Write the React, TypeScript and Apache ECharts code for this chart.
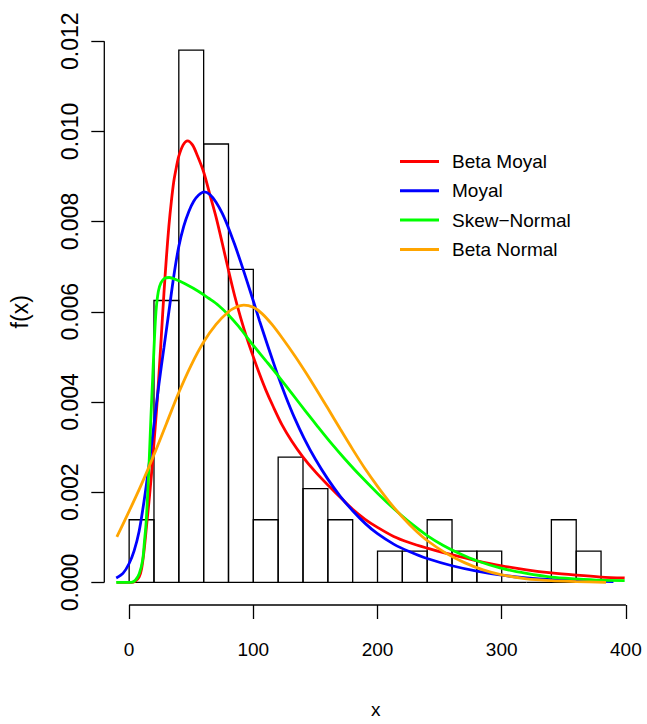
import React, { useEffect, useRef } from "react";
import * as echarts from "echarts";

// Histogram (density scale)
const binEdges = [0, 20, 40, 60, 80, 100, 120, 140, 160, 180, 200, 220, 240, 260, 280, 300, 320, 340, 360, 380];
const binDensity = [
  0.00139, 0.00625, 0.0118, 0.00972, 0.00694, 0.00139, 0.00278, 0.00208, 0.00139, 0,
  0.000694, 0.000694, 0.00139, 0.000694, 0.000694, 0, 0, 0.00139, 0.000694,
];

const xTicks = [0, 100, 200, 300, 400];
const yTicks = [0, 0.002, 0.004, 0.006, 0.008, 0.01, 0.012];

const seriesNames = ["Beta Moyal", "Moyal", "Skew\u2212Normal", "Beta Normal"];
const seriesColors = ["#ff0000", "#0000ff", "#00ff00", "#ffa500"];

const betaMoyal = [
  [-10, 0], [2, 0], [5, 0.00003], [8, 0.00012], [10, 0.0003], [12, 0.0007], [14, 0.00125],
  [16, 0.0018], [18, 0.0024], [20, 0.0031], [22, 0.0038], [24, 0.0046], [26, 0.0055], [28, 0.0064],
  [30, 0.0072], [32, 0.0079], [34, 0.00845], [36, 0.0089], [38, 0.0092], [40, 0.00945],
  [43.5, 0.0097], [47, 0.00979], [51, 0.0097], [55, 0.00946], [60, 0.0091], [65, 0.0086],
  [70, 0.0081], [75, 0.00752], [80, 0.00692], [85, 0.00635], [90, 0.00585], [95, 0.0054],
  [100, 0.005], [105, 0.00462], [110, 0.00427], [116, 0.0039], [123, 0.0035], [131, 0.00313],
  [140, 0.00278], [150, 0.00245], [160, 0.00216], [170, 0.00189], [180, 0.00162], [190, 0.0014],
  [200, 0.00122], [213, 0.00102], [226, 0.00088], [240, 0.00076], [253, 0.00066], [266, 0.00057],
  [280, 0.00048], [300, 0.00037], [320, 0.00028], [340, 0.00021], [360, 0.00016], [380, 0.00012],
  [399, 0.0001],
];

const moyal = [
  [-10.4, 0.0001], [-5, 0.0002], [0, 0.00042], [4, 0.0007], [8, 0.00113], [12, 0.0018],
  [16, 0.0026], [20, 0.0035], [24, 0.0044], [28, 0.0052], [32, 0.006], [36, 0.0068],
  [40, 0.00745], [44, 0.0079], [48, 0.00822], [52, 0.00845], [56, 0.00859], [60.4, 0.00866],
  [65, 0.0086], [70, 0.00843], [75, 0.00818], [80, 0.00786], [85, 0.00749], [90, 0.00709],
  [95, 0.00667], [100, 0.00624], [105, 0.0058], [110, 0.00538], [115, 0.00497], [120, 0.00457],
  [126, 0.00413], [133, 0.00366], [141, 0.00319], [150, 0.00273], [160, 0.00229], [170, 0.00191],
  [180, 0.00159], [190, 0.00131], [200, 0.00108], [213, 0.00085], [226, 0.00068], [240, 0.00053],
  [260, 0.00037], [280, 0.00025], [300, 0.00016], [320, 0.0001], [340, 0.00006], [360, 0.00004],
  [390, 0.00002],
];

const skewNormal = [
  [-10.4, 0], [1.6, 0], [5, 0.00005], [8.2, 0.0002], [10.9, 0.0005], [12.3, 0.0009], [13.6, 0.0013],
  [15, 0.002], [16.3, 0.0028], [17.6, 0.0037], [18.9, 0.0045], [20.2, 0.0053], [21.6, 0.006],
  [23.5, 0.00645], [25.6, 0.00664], [28.5, 0.00674], [32.3, 0.00676], [38, 0.00671], [45, 0.00662],
  [56, 0.00645], [64, 0.0063], [72, 0.00614], [80, 0.00593], [88, 0.00568], [99, 0.00529],
  [110, 0.00492], [120, 0.00458], [131, 0.00419], [142, 0.0038], [152, 0.00345], [162, 0.00311],
  [173, 0.00276], [186, 0.00237], [200, 0.00198], [213, 0.00164], [226, 0.00133], [240, 0.00104],
  [253, 0.00082], [266, 0.00064], [280, 0.00048], [300, 0.00031], [320, 0.0002], [340, 0.00012],
  [360, 0.00008], [380, 0.00005], [399, 0.00004],
];

const betaNormal = [
  [-9.9, 0.00101], [0, 0.00158], [10, 0.00218], [20, 0.00283], [30, 0.00352], [40, 0.00421],
  [50, 0.00482], [60, 0.00533], [70, 0.00572], [80, 0.006], [86, 0.0061], [92.3, 0.00615],
  [100, 0.0061], [107, 0.00596], [115, 0.00572], [123, 0.00543], [133.5, 0.00502], [143, 0.00462],
  [152, 0.00422], [160, 0.00386], [170, 0.0034], [180, 0.00295], [190, 0.00252], [200, 0.00213],
  [210, 0.00177], [220, 0.00145], [230, 0.00117], [240, 0.00093], [255, 0.00065], [270, 0.00044],
  [285, 0.00028], [300, 0.00017], [320, 0.00008], [340, 0.00004], [360, 0.00002], [384, 0],
];

const curves = [betaMoyal, moyal, skewNormal, betaNormal];

export default function App() {
  const ref = useRef<HTMLDivElement>(null);

  useEffect(() => {
    if (!ref.current) return;
    const chart = echarts.init(ref.current, undefined, { renderer: "svg" });

    const xMin = -20;
    const xMax = 417;
    const yMin = -0.0005;
    const yMax = 0.0125;

    const bins = binDensity.map((d, i) => [binEdges[i], binEdges[i + 1], d]);

    const font = "'Liberation Sans', Arial, Helvetica, sans-serif";

    const option: any = {
      animation: false,
      backgroundColor: "#ffffff",
      grid: { left: 104.3, top: 18.6, width: 547.8, height: 590.1, containLabel: false },
      legend: {
        data: seriesNames,
        orient: "vertical",
        left: 395,
        top: 145,
        icon: "rect",
        itemWidth: 39,
        itemHeight: 3,
        itemGap: 6.3,
        textStyle: {
          fontSize: 19,
          lineHeight: 23,
          color: "#000",
          fontFamily: font,
          padding: [0, 0, 0, 8],
        },
      },
      xAxis: {
        type: "value",
        min: xMin,
        max: xMax,
        splitLine: { show: false },
        axisLine: { show: false, onZero: false },
        axisTick: {
          show: true,
          length: 14,
          customValues: xTicks,
          lineStyle: { color: "#000", width: 1.3 },
        },
        axisLabel: {
          customValues: xTicks,
          margin: 35,
          fontSize: 19,
          color: "#000",
          fontFamily: font,
        },
        name: "x",
        nameLocation: "middle",
        nameGap: 95,
        nameTextStyle: { fontSize: 19, color: "#000", fontFamily: font },
      },
      yAxis: {
        type: "value",
        min: yMin,
        max: yMax,
        splitLine: { show: false },
        axisLine: { show: false, onZero: false },
        axisTick: {
          show: true,
          length: 13,
          customValues: yTicks,
          lineStyle: { color: "#000", width: 1.3 },
        },
        axisLabel: {
          customValues: yTicks,
          rotate: 90,
          margin: 23,
          fontSize: 23,
          color: "#000",
          fontFamily: font,
          formatter: (v: number) => v.toFixed(3),
        },
        name: "f(x)",
        nameLocation: "middle",
        nameRotate: 90,
        nameGap: 73,
        nameTextStyle: { fontSize: 23, color: "#000", fontFamily: font },
      },
      series: [
        {
          type: "custom",
          name: "hist",
          silent: true,
          data: bins,
          renderItem: (params: any, api: any) => {
            const x0 = api.value(0);
            const x1 = api.value(1);
            const h = api.value(2);
            const p0 = api.coord([x0, 0]);
            const p1 = api.coord([x1, h]);
            return {
              type: "rect",
              shape: { x: p0[0], y: p1[1], width: p1[0] - p0[0], height: p0[1] - p1[1] },
              style: { fill: "none", stroke: "#000", lineWidth: 1.3 },
            };
          },
          z: 1,
        },
        {
          type: "line",
          name: "xAxisLine",
          silent: true,
          clip: false,
          symbol: "none",
          data: [[xTicks[0], yMin], [xTicks[xTicks.length - 1], yMin]],
          lineStyle: { color: "#000", width: 1.3 },
          z: 1,
        },
        {
          type: "line",
          name: "yAxisLine",
          silent: true,
          clip: false,
          symbol: "none",
          data: [[xMin, yTicks[0]], [xMin, yTicks[yTicks.length - 1]]],
          lineStyle: { color: "#000", width: 1.3 },
          z: 1,
        },
        ...curves.map((c, i) => ({
          type: "line",
          name: seriesNames[i],
          data: c,
          symbol: "none",
          showSymbol: false,
          smooth: 0.3,
          color: seriesColors[i],
          lineStyle: { color: seriesColors[i], width: 2.8 },
          z: 3,
        })),
      ],
    };

    chart.setOption(option);
    return () => chart.dispose();
  }, []);

  return (
    <div
      ref={ref}
      style={{ position: "absolute", left: 0, top: 0, width: 647, height: 724, background: "#fff" }}
    />
  );
}
